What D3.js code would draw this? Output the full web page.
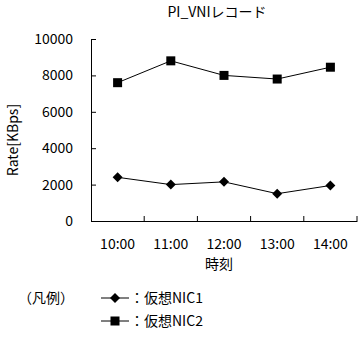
<!DOCTYPE html>
<html><head><meta charset="utf-8">
<script src="https://cdn.jsdelivr.net/npm/d3@7"></script>
<style>
html,body{margin:0;padding:0;background:#fff;}
svg text{font-family:"Noto Sans CJK JP","DejaVu Sans",sans-serif;font-size:14px;fill:#000;}
</style></head>
<body><svg id="c" width="359" height="337"></svg>
<script>
const categories = ["10:00","11:00","12:00","13:00","14:00"];
const nic1 = [2400, 2000, 2150, 1500, 1950];
const nic2 = [7600, 8800, 8000, 7800, 8450];
const yTicks = [0, 2000, 4000, 6000, 8000, 10000];
const seriesNames = ["：仮想NIC1", "：仮想NIC2"];
const titleText = "PI_VNIレコード";
const xTitle = "時刻";
const yTitle = "Rate[KBps]";
const legendTitle = "（凡例）";

const svg = d3.select("#c");
const x = d3.scaleBand().domain(categories).range([91, 357]);
const y = d3.scaleLinear().domain([0, 10000]).range([221, 39]);

// Y axis
const ya = svg.append("g").attr("transform","translate(91,0)")
  .call(d3.axisLeft(y).tickValues(yTicks).tickFormat(d3.format("d")).tickSizeInner(-5).tickSizeOuter(0).tickPadding(18));
ya.select(".domain").attr("stroke","#000");
ya.selectAll(".tick line").attr("stroke","#000");
ya.selectAll(".tick text").style("font-size","14px").attr("fill","#000");

// X axis (labels at centers)
const xa = svg.append("g").attr("transform","translate(0,221)")
  .call(d3.axisBottom(x).tickSize(0).tickPadding(18));
xa.select(".domain").attr("stroke","#000");
xa.selectAll(".tick text").style("font-size","14px").attr("fill","#000");
// X tick marks at band boundaries
svg.append("g").selectAll("line").data(categories).join("line")
  .attr("x1", d => x(d) + x.bandwidth()).attr("x2", d => x(d) + x.bandwidth())
  .attr("y1", 221).attr("y2", 216).attr("stroke","#000");

const line = d3.line().x((d,i) => x(categories[i]) + x.bandwidth()/2).y(d => y(d));
svg.append("path").datum(nic1).attr("d", line).attr("fill","none").attr("stroke","#000").attr("stroke-width",1);
svg.append("path").datum(nic2).attr("d", line).attr("fill","none").attr("stroke","#000").attr("stroke-width",1);

const diamond = (cx, cy, r) => `M${cx},${cy-r}L${cx+r},${cy}L${cx},${cy+r}L${cx-r},${cy}Z`;
svg.append("g").selectAll("path").data(nic1).join("path")
  .attr("d", (d,i) => diamond(x(categories[i]) + x.bandwidth()/2, y(d), 5)).attr("fill","#000");
svg.append("g").selectAll("rect").data(nic2).join("rect")
  .attr("x", (d,i) => x(categories[i]) + x.bandwidth()/2 - 4.5).attr("y", d => y(d) - 4.5)
  .attr("width", 9).attr("height", 9).attr("fill","#000");

// Titles
svg.append("text").attr("x", 217).attr("y", 17).attr("text-anchor","middle").text(titleText);
svg.append("text").attr("x", 219).attr("y", 269).attr("text-anchor","middle").text(xTitle);
svg.append("text").attr("transform","translate(18,140) rotate(-90)").attr("text-anchor","middle").text(yTitle);

// Legend
svg.append("text").attr("x", 18).attr("y", 303).text(legendTitle);
const rows = [298, 321];
rows.forEach((ry, i) => {
  svg.append("line").attr("x1", 101).attr("x2", 129).attr("y1", ry).attr("y2", ry).attr("stroke","#000");
  if (i === 0) svg.append("path").attr("d", diamond(115, ry, 5)).attr("fill","#000");
  else svg.append("rect").attr("x", 110.5).attr("y", ry-4.5).attr("width",9).attr("height",9).attr("fill","#000");
  svg.append("text").attr("x", 130).attr("y", ry+5).text(seriesNames[i]);
});
</script></body></html>
